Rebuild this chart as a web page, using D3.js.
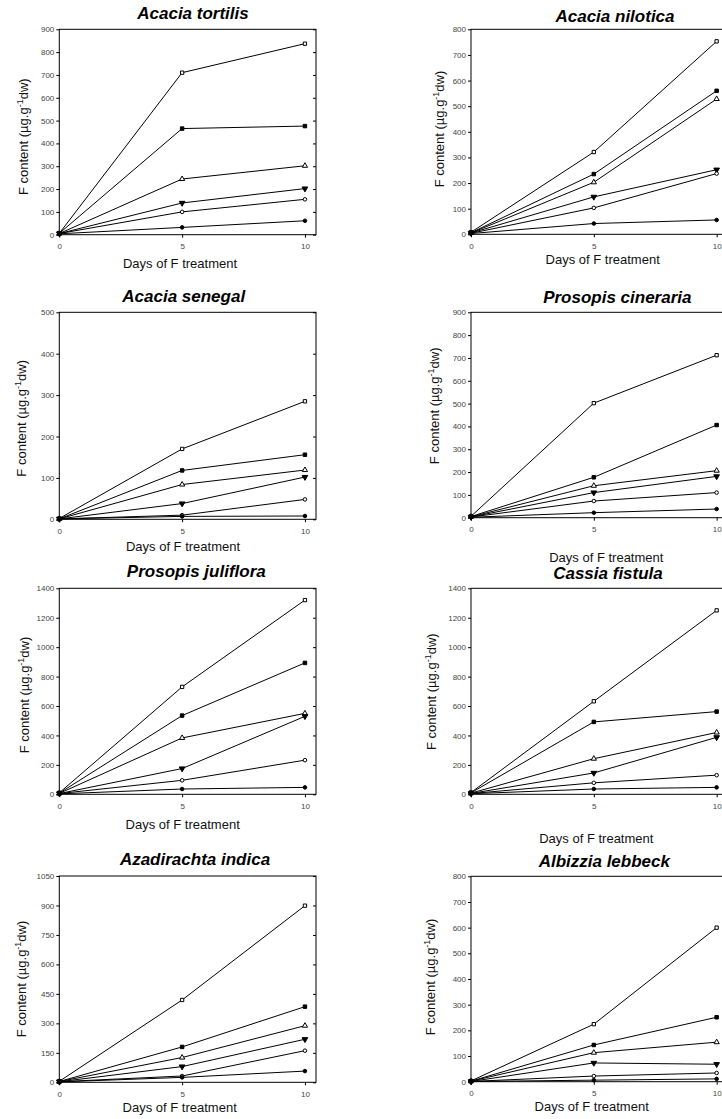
<!DOCTYPE html>
<html>
<head>
<meta charset="utf-8">
<script src="https://cdn.jsdelivr.net/npm/d3@7"></script>
<style>
  body { margin: 0; background: #fff; }
  svg { display: block; font-family: "Liberation Sans", Arial, sans-serif; }
</style>
</head>
<body>
<script>
// days of F treatment
var days = [0, 5, 10];

var species = ["Acacia tortilis", "Acacia nilotica", "Acacia senegal", "Prosopis cineraria",
               "Prosopis juliflora", "Cassia fistula", "Azadirachta indica", "Albizzia lebbeck"];

// y axis range per panel
var yMax  = [900, 800, 500, 900, 1400, 1400, 1050, 800];
var yStep = [100, 100, 100, 100, 200, 200, 150, 100];

// series, top to bottom: open square, filled square, open triangle,
// filled down triangle, open circle, filled circle
var tortilis  = [[6, 710, 837], [6, 465, 476], [5, 244, 302], [5, 139, 202], [5, 100, 155], [4, 32, 61]];
var nilotica  = [[8, 321, 753], [6, 235, 560], [5, 203, 528], [5, 146, 252], [4, 103, 237], [3, 42, 56]];
var senegal   = [[2, 170, 285], [1, 118, 156], [1, 84, 119], [1, 38, 102], [1, 10, 48], [1, 7, 8]];
var cineraria = [[6, 502, 712], [5, 177, 406], [4, 140, 206], [3, 110, 181], [3, 73, 110], [2, 22, 38]];
var juliflora = [[10, 730, 1320], [8, 535, 893], [6, 383, 550], [5, 175, 530], [5, 95, 232], [3, 36, 47]];
var fistula   = [[12, 632, 1250], [10, 492, 562], [8, 242, 420], [6, 145, 387], [5, 78, 130], [4, 36, 47]];
var indica    = [[5, 419, 899], [4, 180, 385], [4, 126, 288], [3, 80, 219], [3, 32, 161], [2, 25, 57]];
var lebbeck   = [[3, 224, 600], [2, 143, 251], [2, 113, 154], [1, 73, 68], [1, 22, 34], [1, 6, 11]];

var values = [tortilis, nilotica, senegal, cineraria, juliflora, fistula, indica, lebbeck];

// panel placement (frame left/top/bottom, title, axis titles)
var frameW = 256.7;
var layout = [
  {L: 59.3, T: 29.3,  B: 234.7,  tx: 193,   ty: 19,    ylx: 28,    yly: 136.7, xlx: 180,   xly: 268},
  {L: 471,  T: 29.3,  B: 234.3,  tx: 615,   ty: 21.7,  ylx: 444.3, yly: 129,   xlx: 602.7, xly: 264.3},
  {L: 59.3, T: 312.3, B: 519.3,  tx: 183.7, ty: 301.7, ylx: 26,    yly: 418.3, xlx: 183,   xly: 550.7},
  {L: 471,  T: 312.3, B: 517.7,  tx: 617.3, ty: 302.7, ylx: 439.3, yly: 405.8, xlx: 606.3, xly: 561.5},
  {L: 59.3, T: 588.3, B: 794.3,  tx: 196.3, ty: 576.7, ylx: 29.3,  yly: 695,   xlx: 182.7, xly: 828.7},
  {L: 471,  T: 588.3, B: 794.3,  tx: 608,   ty: 578.5, ylx: 436,   yly: 691.7, xlx: 596.3, xly: 842.7},
  {L: 59.3, T: 876,   B: 1082.3, tx: 195,   ty: 865.3, ylx: 26,    yly: 979,   xlx: 179.7, xly: 1111.5},
  {L: 471,  T: 876.3, B: 1081.7, tx: 604.3, ty: 867.3, ylx: 435,   yly: 977,   xlx: 591.7, xly: 1111}
];

var marks = [
  {type: d3.symbolSquare,   fill: "#fff", rot: 0,   size: 11},
  {type: d3.symbolSquare,   fill: "#000", rot: 0,   size: 12},
  {type: d3.symbolTriangle, fill: "#fff", rot: 0,   size: 12},
  {type: d3.symbolTriangle, fill: "#000", rot: 180, size: 14},
  {type: d3.symbolCircle,   fill: "#fff", rot: 0,   size: 10},
  {type: d3.symbolCircle,   fill: "#000", rot: 0,   size: 10}
];

var svg = d3.select("body").append("svg")
  .attr("width", 722)
  .attr("height", 1119);

layout.forEach(function(p, i) {
  var g = svg.append("g");

  var x = d3.scaleLinear().domain([0, 10.45]).range([p.L, p.L + frameW]);
  var y = d3.scaleLinear().domain([0, yMax[i]]).range([p.B, p.T]);
  var yTicks = d3.range(0, yMax[i] + 1, yStep[i]);

  // left axis
  var left = g.append("g")
    .attr("transform", "translate(" + p.L + ",0)")
    .call(d3.axisLeft(y).tickValues(yTicks).tickFormat(d3.format("d"))
      .tickSize(3).tickPadding(2).tickSizeOuter(0));

  // right ticks, pointing in
  var right = g.append("g")
    .attr("transform", "translate(" + (p.L + frameW) + ",0)")
    .call(d3.axisRight(y).tickValues(yTicks).tickSize(-3).tickFormat("").tickSizeOuter(0));

  // bottom axis
  var bottom = g.append("g")
    .attr("transform", "translate(0," + p.B + ")")
    .call(d3.axisBottom(x).tickValues(days).tickSize(3).tickPadding(6).tickSizeOuter(0));

  [left, right, bottom].forEach(function(a) {
    a.select(".domain").remove();
    a.selectAll("line").attr("stroke", "#000");
    a.selectAll("text")
      .attr("font-size", 8)
      .attr("fill", "#444")
      .attr("font-family", "Liberation Sans, Arial, sans-serif");
  });

  // frame
  g.append("rect")
    .attr("x", p.L).attr("y", p.T)
    .attr("width", frameW).attr("height", p.B - p.T)
    .attr("fill", "none")
    .attr("stroke", "#000")
    .attr("stroke-width", 1);

  var line = d3.line()
    .x(function(d, j) { return x(days[j]); })
    .y(function(d) { return y(d); });

  g.selectAll("path.series")
    .data(values[i])
    .enter().append("path")
    .attr("class", "series")
    .attr("d", line)
    .attr("fill", "none")
    .attr("stroke", "#000")
    .attr("stroke-width", 1);

  values[i].forEach(function(s, k) {
    var m = marks[k];
    g.selectAll(null)
      .data(s)
      .enter().append("path")
      .attr("d", d3.symbol().type(m.type).size(m.size))
      .attr("transform", function(d, j) {
        return "translate(" + x(days[j]) + "," + y(d) + ") rotate(" + m.rot + ")";
      })
      .attr("fill", m.fill)
      .attr("stroke", "#000")
      .attr("stroke-width", 1);
  });

  // title
  g.append("text")
    .attr("x", p.tx).attr("y", p.ty)
    .attr("text-anchor", "middle")
    .attr("font-size", 17)
    .attr("font-weight", "bold")
    .attr("font-style", "italic")
    .text(species[i]);

  // x label
  g.append("text")
    .attr("x", p.xlx).attr("y", p.xly)
    .attr("text-anchor", "middle")
    .attr("font-size", 13)
    .attr("fill", "#111")
    .text("Days of F treatment");

  // y label
  var yl = g.append("text")
    .attr("transform", "translate(" + p.ylx + "," + p.yly + ") rotate(-90)")
    .attr("text-anchor", "middle")
    .attr("font-size", 13)
    .attr("fill", "#111");
  yl.append("tspan").text("F content (\u00b5g.g");
  yl.append("tspan").attr("font-size", 9).attr("dy", -5).text("-1");
  yl.append("tspan").attr("dy", 5).text("dw)");
});
</script>
</body>
</html>
